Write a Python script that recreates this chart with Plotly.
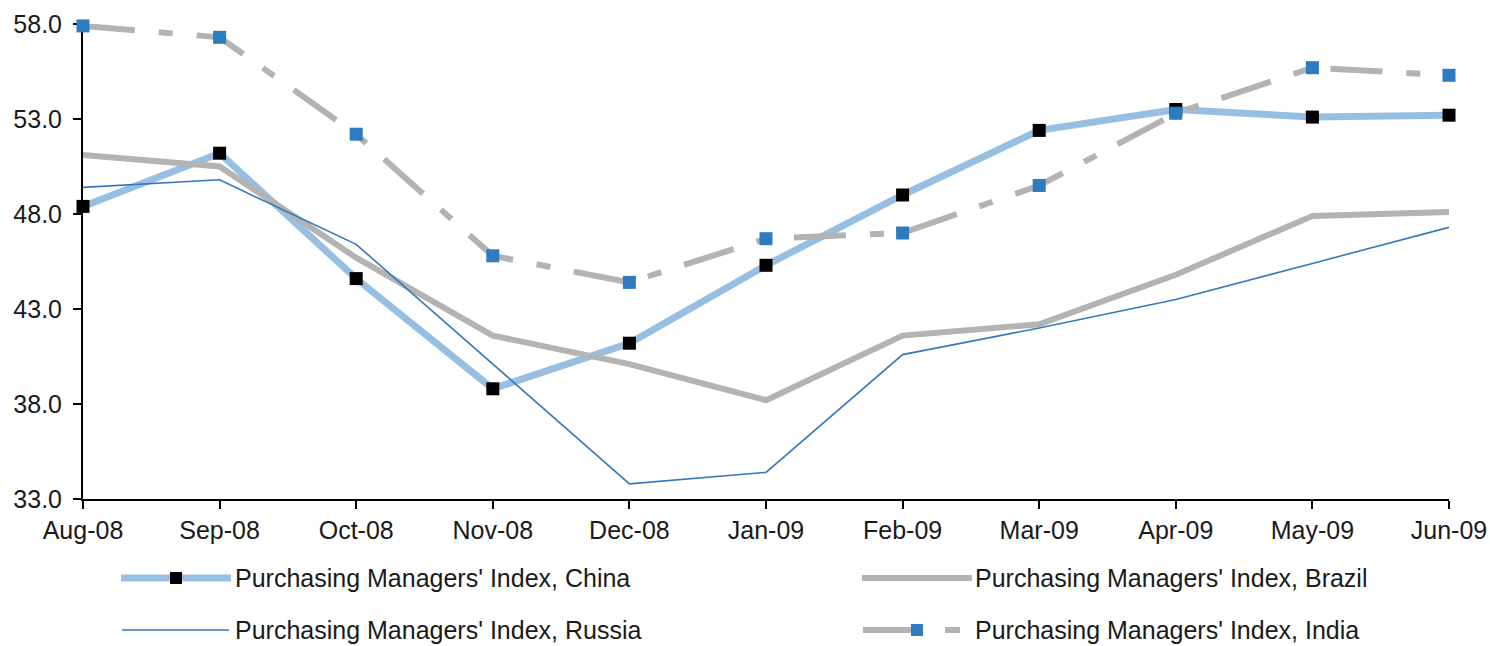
import plotly.graph_objects as go

# Monthly PMI readings, Aug-08 .. Jun-09
months = ["Aug-08", "Sep-08", "Oct-08", "Nov-08", "Dec-08", "Jan-09",
          "Feb-09", "Mar-09", "Apr-09", "May-09", "Jun-09"]
china = [48.4, 51.2, 44.6, 38.8, 41.2, 45.3, 49.0, 52.4, 53.5, 53.1, 53.2]
brazil = [51.1, 50.5, 45.7, 41.6, 40.1, 38.2, 41.6, 42.2, 44.8, 47.9, 48.1]
russia = [49.4, 49.8, 46.4, 40.1, 33.8, 34.4, 40.6, 42.0, 43.5, 45.4, 47.3]
india = [57.9, 57.3, 52.2, 45.8, 44.4, 46.7, 47.0, 49.5, 53.3, 55.7, 55.3]

y_ticks = [33.0, 38.0, 43.0, 48.0, 53.0, 58.0]

LIGHT_BLUE = "#97BFE2"
GRAY = "#B3B3B3"
BLUE = "#2E7BC0"
THIN_BLUE = "#3479BC"
FONT = "Liberation Sans, Arial, sans-serif"
TEXT = "#1a1a1a"
FS = 25
MS = 13

W, H = 1490, 646
ML, MR, MT, MB = 83, 41, 24, 147
PW, PH = W - ML - MR, H - MT - MB

fig = go.Figure()
fig.add_trace(go.Scatter(
    x=months, y=china, mode="lines+markers", name="Purchasing Managers' Index, China",
    line=dict(color=LIGHT_BLUE, width=7),
    marker=dict(symbol="square", size=MS, color="black"),
    cliponaxis=False))
fig.add_trace(go.Scatter(
    x=months, y=brazil, mode="lines", name="Purchasing Managers' Index, Brazil",
    line=dict(color=GRAY, width=6), cliponaxis=False))
fig.add_trace(go.Scatter(
    x=months, y=russia, mode="lines", name="Purchasing Managers' Index, Russia",
    line=dict(color=THIN_BLUE, width=1.6), cliponaxis=False))
fig.add_trace(go.Scatter(
    x=months, y=india, mode="lines+markers", name="Purchasing Managers' Index, India",
    line=dict(color=GRAY, width=6, dash="52px,24px,14px,24px"),
    marker=dict(symbol="square", size=MS, color=BLUE),
    cliponaxis=False))


def px_x(px):
    return (px - ML) / PW


def px_y(py):
    return (H - MB - py) / PH


shapes = []
annotations = []


def legend_line(x0, x1, y, color, width, dash=None):
    shapes.append(dict(type="line", xref="paper", yref="paper",
                       x0=px_x(x0), x1=px_x(x1), y0=px_y(y), y1=px_y(y),
                       line=dict(color=color, width=width, dash=dash)))


def legend_square(cx, cy, color, size=12):
    h = size / 2
    shapes.append(dict(type="rect", xref="paper", yref="paper",
                       x0=px_x(cx - h), x1=px_x(cx + h),
                       y0=px_y(cy + h), y1=px_y(cy - h),
                       fillcolor=color, line=dict(width=0)))


def legend_text(x, y, text):
    annotations.append(dict(xref="paper", yref="paper", x=px_x(x), y=px_y(y),
                            xanchor="left", yanchor="middle", showarrow=False,
                            text=text, font=dict(family=FONT, size=FS, color=TEXT)))


row1, row2 = 578, 630
# China
legend_line(121, 231, row1, LIGHT_BLUE, 7)
legend_square(176, row1, "black")
legend_text(233, row1, fig.data[0].name)
# Brazil
legend_line(862, 972, row1, GRAY, 6)
legend_text(973, row1, fig.data[1].name)
# Russia
legend_line(122, 229, row2, THIN_BLUE, 1.6)
legend_text(233, row2, fig.data[2].name)
# India
legend_line(863, 914, row2, GRAY, 6)
legend_line(945, 960, row2, GRAY, 6)
legend_square(917, row2, BLUE)
legend_text(973, row2, fig.data[3].name)

fig.update_layout(
    width=W, height=H,
    margin=dict(l=ML, r=MR, t=MT, b=MB, pad=0, autoexpand=False),
    paper_bgcolor="white", plot_bgcolor="white",
    showlegend=False,
    shapes=shapes, annotations=annotations,
    font=dict(family=FONT, size=FS, color=TEXT),
    xaxis=dict(
        type="category", range=[0, len(months) - 1], automargin=False,
        showgrid=False, zeroline=False,
        showline=True, linecolor="black", linewidth=2,
        ticks="outside", ticklen=8, tickwidth=2, tickcolor="black",
        ticklabelstandoff=0,
        tickfont=dict(family=FONT, size=FS, color=TEXT),
        layer="below traces"),
    yaxis=dict(
        range=[33, 58], tickvals=y_ticks, tickformat=".1f", automargin=False,
        showgrid=False, zeroline=False,
        showline=True, linecolor="black", linewidth=2,
        ticks="outside", ticklen=8, tickwidth=2, tickcolor="black",
        ticklabelstandoff=6,
        tickfont=dict(family=FONT, size=FS, color=TEXT),
        layer="below traces"),
)

fig.write_html("out.html")
